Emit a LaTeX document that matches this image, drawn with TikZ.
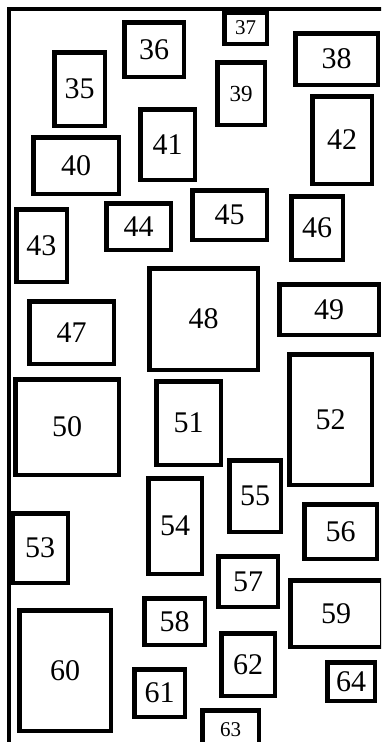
\documentclass[tikz,border=0pt]{standalone}
\usepackage{fontspec}
\setmainfont{Liberation Serif}

\tikzset{
  fusebox/.style={draw, line width=4.5pt, inner sep=0pt, rectangle},
}

\begin{document}
\begin{tikzpicture}[x=1pt, y=-1pt, line cap=rect, line join=miter]
  % Page window (image pixels, y downwards)
  \clip (0, 0) rectangle (381, 742);

  % Panel frame: top edge and left edge
  \coordinate (tl) at (8.5, 9);
  \coordinate (tr) at (385, 9);
  \coordinate (bl) at (8.5, 746);
  \draw[line width=4pt] (tr) -- (tl) -- (bl);

  % Fuse boxes: number/left/top/right/bottom/font size (outer edges)
  \foreach \n/\l/\t/\r/\b/\s in {
      35/52/50/107/128/30, 36/122/20/186/79/30, 37/222/10/269/46/21,
      38/293/31/380/87/30, 39/215/60/267/127/23, 40/31/135/121/196/30,
      41/138/107/197/182/30, 42/310/94/374/186/30, 43/14/207/69/284/30,
      44/104/201/173/252/30, 45/190/188/269/242/30, 46/289/194/345/262/30,
      47/27/299/116/366/30, 48/147/266/260/372/30, 49/277/282/381/337/30,
      50/13/377/121/477/30, 51/154/379/223/467/30, 52/287/352/374/487/30,
      53/10/511/70/585/30, 54/146/476/204/576/30, 55/227/458/283/534/30,
      56/302/502/379/561/30, 57/216/554/280/609/30, 58/142/596/207/647/30,
      59/288/578/384/649/30, 60/17/608/113/733/30, 61/132/667/187/719/30,
      62/219/631/277/698/30, 63/200/708/261/752/21, 64/325/660/377/703/30}
    \node[fusebox, minimum width={\r-\l-4.5}, minimum height={\b-\t-4.5},
          font=\fontsize{\s}{\s}\selectfont]
      (f\n) at ({(\l+\r)/2}, {(\t+\b)/2}) {\n};
\end{tikzpicture}
\end{document}
